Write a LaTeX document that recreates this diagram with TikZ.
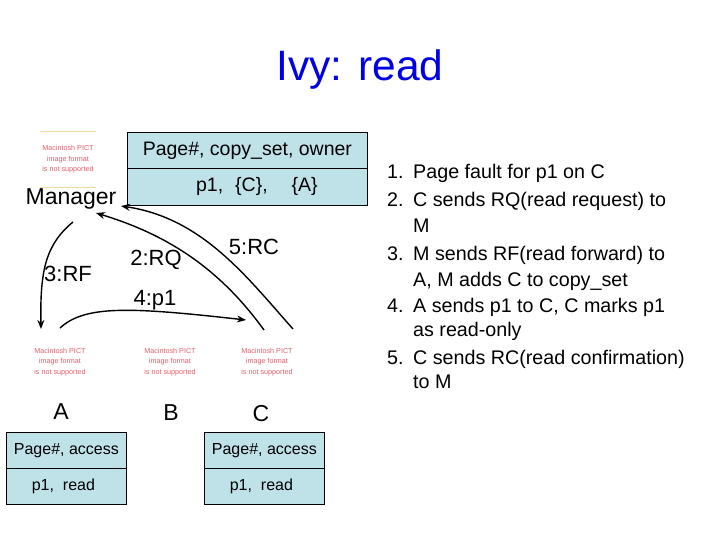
\documentclass[tikz,border=0pt]{standalone}
\usepackage{fontspec}
\setmainfont{Liberation Sans}
\usetikzlibrary{arrows.meta}
\definecolor{titleblue}{RGB}{0,0,230}
\definecolor{cellfill}{RGB}{191,226,232}
\definecolor{pictred}{RGB}{228,95,105}
\definecolor{pictline}{RGB}{240,222,150}
\begin{document}
\begin{tikzpicture}[x=1pt,y=-1pt,
  cell/.style={draw=black, line width=0.8pt, fill=cellfill, inner sep=0pt, anchor=north west, minimum height=36pt},
  bigcell/.style={cell, minimum width=240pt, font=\fontsize{19.5}{22}\selectfont},
  smallcell/.style={cell, minimum width=120pt, font=\fontsize{16}{18}\selectfont},
  pict/.style={align=center, text=pictred, font=\fontsize{7.2}{10.5}\selectfont, inner sep=0pt},
  lbl/.style={font=\fontsize{22}{24}\selectfont, inner sep=0pt},
  hostname/.style={font=\fontsize{23}{25}\selectfont, inner sep=0pt},
  listline/.style={font=\fontsize{19.7}{22}\selectfont, anchor=base west, inner sep=0pt},
  msg/.style={line width=1.4pt, -{Stealth[length=9pt,width=7pt]}}
]
\fill[white] (0,0) rectangle (720,540);
\useasboundingbox (0,0) rectangle (720,540);

% title
\node[text=titleblue, font=\fontsize{42.5}{46}\selectfont, inner sep=0pt] (title) at (360,70) {Ivy: read};

% manager
\node[pict, minimum width=56pt, minimum height=55pt] (pm) at (68,159.5) {Macintosh PICT\\image format\\is not supported};
\draw[pictline, line width=1pt] (pm.north west) -- (pm.north east);
\draw[pictline, line width=1pt] (pm.south west) -- (pm.south east);
\node[hostname] (mgr) at (71,199) {Manager};

\node[bigcell] (mh) at (127,132) {Page\#, copy\_set, owner};
\node[bigcell, minimum height=37pt] (mr) at (127,168) {\hspace*{19pt}p1,\hspace{12pt}\{C\},\hspace{24pt}\{A\}};

% hosts
\node[pict] (pa) at (60,362) {Macintosh PICT\\image format\\is not supported};
\node[pict] (pb) at (170,362) {Macintosh PICT\\image format\\is not supported};
\node[pict] (pc) at (267,362) {Macintosh PICT\\image format\\is not supported};
\node[hostname] (ha) at (61,412) {A};
\node[hostname] (hb) at (171,413) {B};
\node[hostname] (hc) at (261,414) {C};

\node[smallcell] (ah) at (6,432) {Page\#, access};
\node[smallcell] (ar) at (6,468) {p1,\ \ read\hspace*{6pt}};
\node[smallcell] (ch) at (204,432) {Page\#, access};
\node[smallcell] (cr) at (204,468) {p1,\ \ read\hspace*{6pt}};

% connector end points
\coordinate (mgrR) at (121,206);
\coordinate (mgrM) at (96,213);
\coordinate (mgrL) at (73,222);
\coordinate (aTopL) at (41,329);
\coordinate (aTopR) at (60,328);
\coordinate (cTopL) at (246,320);
\coordinate (cTopM) at (264,330);
\coordinate (cTopR) at (293,329);

% messages
\draw[msg] (cTopM) .. controls (222,272) and (172,236) .. (mgrM);
\draw[msg] (mgrL) .. controls (45,245) and (40,272) .. (aTopL);
\draw[msg] (aTopR) .. controls (85,305) and (130,307) .. (cTopL);
\draw[msg] (cTopR) .. controls (246,276) and (202,218) .. (mgrR);

\node[lbl] (l3) at (68,274) {3:RF};
\node[lbl] (l2) at (156,260) {2:RQ};
\node[lbl] (l5) at (254,247) {5:RC};
\node[lbl] (l4) at (155,300) {4:p1};

% steps
\node[listline] (n1) at (387,178.5) {1.};
\node[listline] (t1) at (413,178.5) {Page fault for p1 on C};
\node[listline] (n2) at (387,206.5) {2.};
\node[listline] (t2a) at (413,206.5) {C sends RQ(read request) to};
\node[listline] (t2b) at (413,232.5) {M};
\node[listline] (n3) at (387,260.5) {3.};
\node[listline] (t3a) at (413,260.5) {M sends RF(read forward) to};
\node[listline] (t3b) at (413,286.5) {A, M adds C to copy\_set};
\node[listline] (n4) at (387,312.5) {4.};
\node[listline] (t4a) at (413,312.5) {A sends p1 to C, C marks p1};
\node[listline] (t4b) at (413,336.5) {as read-only};
\node[listline] (n5) at (387,364.5) {5.};
\node[listline] (t5a) at (413,364.5) {C sends RC(read confirmation)};
\node[listline] (t5b) at (413,388.5) {to M};
\end{tikzpicture}
\end{document}
